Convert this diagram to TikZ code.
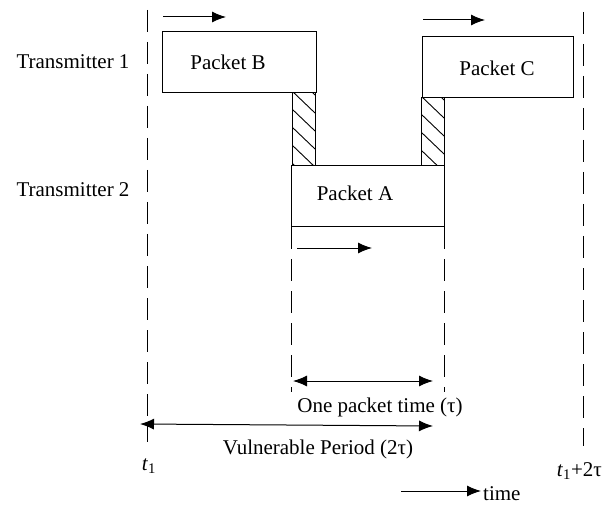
\documentclass[tikz,border=0pt]{standalone}
\usepackage{fontspec}
\setmainfont{Liberation Serif}
\usetikzlibrary{arrows.meta}
\begin{document}
\begin{tikzpicture}[x=1pt,y=-1pt,
  lbl/.style={font=\fontsize{21}{24}\selectfont, inner sep=0pt},
  pkt/.style={draw, line width=1pt, inner sep=0pt},
  dline/.style={dash pattern=on 22pt off 10pt, line width=0.9pt},
  arr/.style={line width=1pt, -{Latex[length=14pt,width=11pt]}},
  darr/.style={line width=1pt, {Latex[length=14pt,width=11pt]}-{Latex[length=14pt,width=11pt]}},
  hatchbox/.style={draw, line width=1pt}]
\useasboundingbox (0,0) rectangle (603,508);
% packets
\node[pkt, minimum width=154pt, minimum height=61pt] (B) at (239,62.5) {};
\node[lbl] (Bt) at (228,62) {Packet B};
\node[pkt, minimum width=151pt, minimum height=61pt] (C) at (497.5,67.5) {};
\node[lbl] (Ct) at (497,68) {Packet C};
\node[pkt, minimum width=153pt, minimum height=61pt] (A) at (367.5,196.5) {};
\node[lbl] (At) at (355,193) {Packet A};
% hatched overlaps
\draw[hatchbox] (292,93) rectangle (315,166);
\begin{scope}
\clip (292,93) rectangle (315,166);
\foreach \k in {-38,-20,...,85} \draw[line width=0.9pt] (292,93+\k) -- (315,93+\k+22);
\end{scope}
\draw[hatchbox] (421,98) rectangle (444,166);
\begin{scope}
\clip (421,98) rectangle (444,166);
\foreach \k in {-38,-20,...,85} \draw[line width=0.9pt] (421,98+\k) -- (444,98+\k+22);
\end{scope}
% labels
\node[lbl] (T1) at (73,62) {Transmitter 1};
\node[lbl] (T2) at (73,190) {Transmitter 2};
% dashed lines
\coordinate (L1) at (147,10); \coordinate (L2) at (147,442);
\coordinate (R1) at (583,12); \coordinate (R2) at (583,446);
\draw[dline] (L1) -- (L2);
\draw[dline] (R1) -- (R2);
\coordinate (D1a) at (291,227); \coordinate (D1b) at (291,392);
\coordinate (D2a) at (444,227); \coordinate (D2b) at (444,392);
\draw[dline] (D1a) -- (D1b);
\draw[dline] (D2a) -- (D2b);
% motion arrows
\coordinate (a1) at (163,17); \coordinate (a2) at (226,17);
\draw[arr] (a1) -- (a2);
\coordinate (c1) at (423,20); \coordinate (c2) at (485,20);
\draw[arr] (c1) -- (c2);
\coordinate (p1) at (297,248); \coordinate (p2) at (372,248);
\draw[arr] (p1) -- (p2);
% one packet time
\coordinate (o1) at (293,381); \coordinate (o2) at (433,381);
\draw[darr] (o1) -- (o2);
\node[lbl] (ot) at (380,407) {One packet time (τ)};
% vulnerable period
\coordinate (v1) at (140,424); \coordinate (v2) at (433,426);
\draw[darr] (v1) -- (v2);
\node[lbl] (vt) at (318,449) {Vulnerable Period (2τ)};
% time labels
\node[lbl] (t1) at (149,466) {\textit{t}\textsubscript{1}};
\node[lbl, anchor=east] (t2) at (602,471) {\textit{t}\textsubscript{1}+2τ};
\coordinate (ta) at (401,491); \coordinate (tb) at (481,491);
\draw[arr] (ta) -- (tb);
\node[lbl, anchor=west] (tt) at (483,494) {time};
\end{tikzpicture}
\end{document}
